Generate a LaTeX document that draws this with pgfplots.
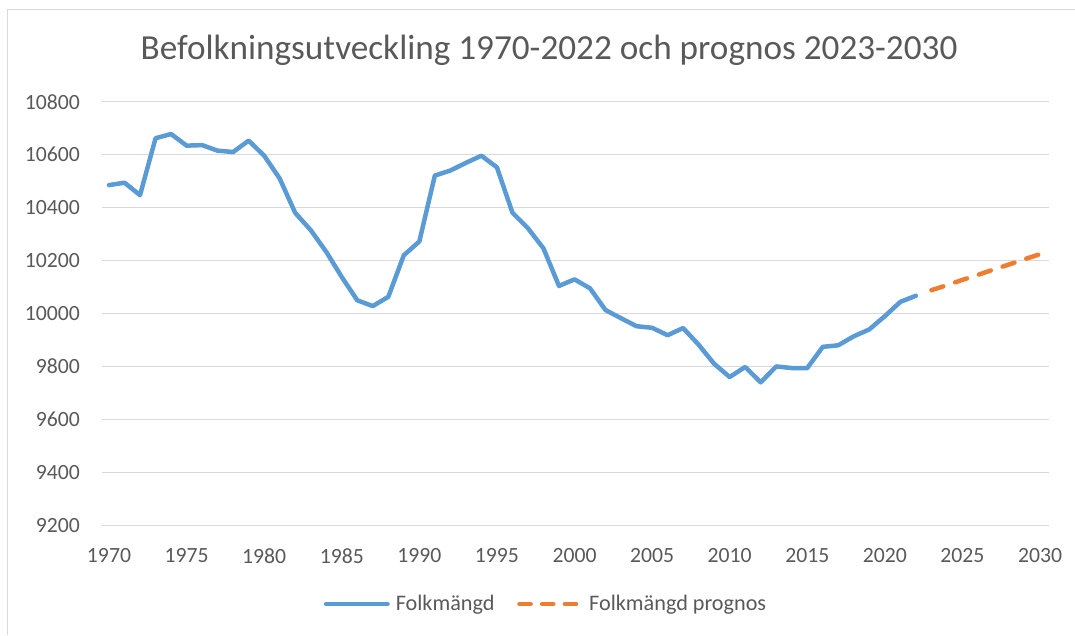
\documentclass[border=0pt]{standalone}
\usepackage{fontspec}
\setmainfont{Carlito}
\usepackage{pgfplots}
\pgfplotsset{compat=1.18}
\definecolor{cblue}{HTML}{5B9BD5}
\definecolor{corange}{HTML}{ED7D31}
\definecolor{cgrid}{HTML}{D9D9D9}
\definecolor{ctext}{HTML}{595959}
\begin{document}
\begin{tikzpicture}[x=1pt,y=1pt]
\useasboundingbox (0,0) rectangle (1075,635);
\draw[cgrid, line width=1pt] (7,0) -- (7,625.7) -- (1075,625.7);
\node[anchor=base, text=ctext, inner sep=0pt, font=\fontsize{35.2}{40}\selectfont] at (549,575) {Befolkningsutveckling 1970-2022 och prognos 2023-2030};
\begin{axis}[
  at={(101.7pt,109.7pt)}, anchor=south west,
  scale only axis, width=947.3pt, height=423.6pt,
  xmin=1969.53, xmax=2030.58,
  ymin=9200, ymax=10800,
  xtick={1970,1975,...,2030},
  ytick={9200,9400,...,10800},
  scaled y ticks=false, scaled x ticks=false,
  axis line style={draw=none},
  major tick length=0pt,
  ymajorgrids, grid style={cgrid, line width=1pt},
  /pgf/number format/assume math mode=true,
  /pgf/number format/1000 sep={},
  tick label style={text=ctext, font=\fontsize{21.7}{26}\selectfont, inner sep=0pt},
  xticklabel style={anchor=north, yshift=-22.7pt},
  yticklabel style={anchor=east, xshift=-21.7pt},
  legend style={at={(0.4711,-0.1858)}, anchor=center, draw=none, fill=none,
    legend columns=2, font=\fontsize{22.2}{26}\selectfont, text=ctext,
    /tikz/every even column/.append style={column sep=16.7pt},
    nodes={inner xsep=6pt, inner ysep=0pt}},
  legend image code/.code={\draw[#1] (0pt,0pt) -- (61.5pt,0pt);},
]
\addplot[cblue, line width=4.5pt, line join=round, line cap=round] coordinates {
(1970,10485) (1971,10494) (1972,10447) (1973,10662) (1974,10678)
(1975,10634) (1976,10636) (1977,10615) (1978,10610) (1979,10653)
(1980,10596) (1981,10510) (1982,10380) (1983,10315) (1984,10233)
(1985,10138) (1986,10050) (1987,10028) (1988,10063) (1989,10220)
(1990,10272) (1991,10521) (1992,10540) (1993,10569) (1994,10596)
(1995,10552) (1996,10381) (1997,10322) (1998,10246) (1999,10104)
(2000,10129) (2001,10095) (2002,10013) (2003,9982) (2004,9952)
(2005,9946) (2006,9918) (2007,9945) (2008,9882) (2009,9810)
(2010,9760) (2011,9798) (2012,9740) (2013,9800) (2014,9794)
(2015,9794) (2016,9874) (2017,9880) (2018,9914) (2019,9940)
(2020,9990) (2021,10044) (2022,10067)
};
\addlegendentry{Folkmängd}
\addplot[corange, line width=4.5pt, line cap=round, dash pattern=on 12.5pt off 12.5pt,
  legend image post style={dash pattern=on 11.2pt off 11.5pt}] coordinates {
(2023,10088) (2024,10107) (2025,10127) (2026,10146) (2027,10166)
(2028,10185) (2029,10205) (2030,10224)
};
\addlegendentry{Folkmängd prognos}
\end{axis}
\end{tikzpicture}
\end{document}
